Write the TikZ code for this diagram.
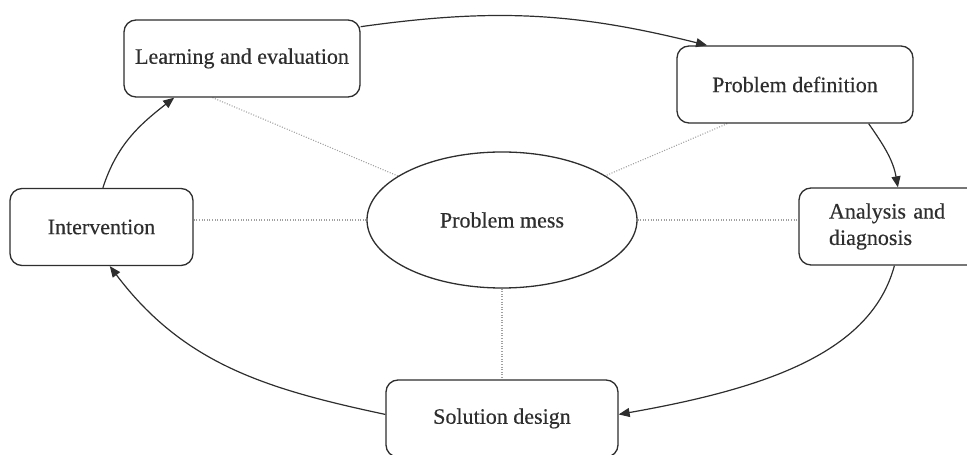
\documentclass[tikz,border=0pt]{standalone}
\usepackage{fontspec}
\setmainfont{Liberation Serif}
\usetikzlibrary{shapes.geometric,arrows.meta,backgrounds}
\definecolor{ink}{HTML}{2E2E2E}
\definecolor{dotc}{HTML}{A0A0A0}
\tikzset{
  lbl/.style={text=ink, font=\fontsize{22}{26.4}\selectfont\addfontfeature{FakeBold=0.35}},
  box/.style={lbl, draw=ink, line width=1.3pt, rounded corners=12pt, minimum height=77pt, inner sep=0pt, fill=white},
  mess/.style={lbl, draw=ink, line width=1.3pt, ellipse, minimum width=270pt, minimum height=136pt, inner sep=0pt, fill=white},
  flow/.style={draw=ink, line width=1.2pt, -{Triangle[length=11pt,width=9pt]}},
  link/.style={draw=dotc, line width=1.1pt, dash pattern=on 1pt off 1.6pt}
}
\begin{document}
\begin{tikzpicture}[x=1pt,y=1pt]
\useasboundingbox (0,0) rectangle (967,455);
\node[mess] (pm) at (502,235) {Problem mess};
\node[box, minimum width=236pt] (le) at (242,396.5) {Learning and evaluation};
\node[box, minimum width=236pt] (pd) at (795,370.5) {Problem definition};
\node[box, minimum width=236pt, text width=176pt, inner xsep=30pt, align=left] (ad) at (917,228.5) {Analysis and\\diagnosis};
\node[box, minimum width=183pt] (iv) at (101.5,228) {Intervention};
\node[box, minimum width=232pt] (sd) at (502,36.5) {Solution design};
\begin{scope}[on background layer]
\draw[link] (le.-127) -- (pm.center);
\draw[link] (pd.-150) -- (pm.center);
\draw[link] (pm.west) -- (pm.west -| iv.east);
\draw[link] (pm.east) -- (pm.east -| ad.west);
\draw[link] (pm.south) -- (pm.south |- sd.north);
\end{scope}
% cycle arrows
\draw[flow] (le.15) to[out=8,in=166] (pd.156);
\draw[flow] (pd.-28) to[out=-55,in=100] (ad.116);
\draw[flow] (ad.-120) to[out=-105,in=10,out distance=90pt,in distance=150pt] (sd.2);
\draw[flow] (sd.178) to[out=168,in=-53] (iv.-78);
\draw[flow] (iv.88) to[out=72,in=218] (le.210);
\end{tikzpicture}
\end{document}
